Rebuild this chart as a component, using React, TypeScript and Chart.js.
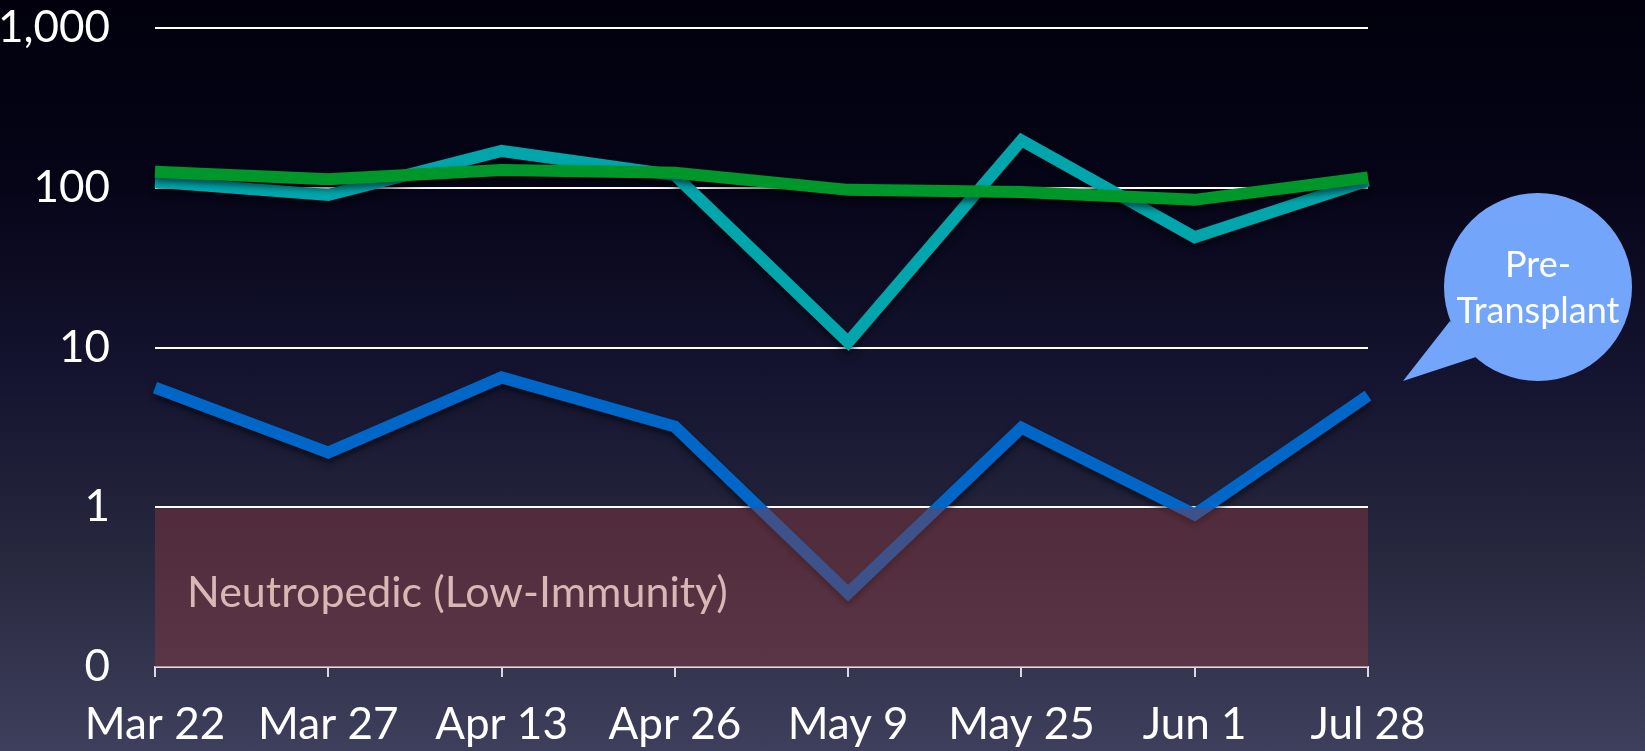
import React, { useEffect, useRef } from "react";
import { Chart, registerables } from "chart.js";

Chart.register(...registerables);

const categories = ["Mar 22", "Mar 27", "Apr 13", "Apr 26", "May 9", "May 25", "Jun 1", "Jul 28"];
const tealValues = [109, 90, 170, 120, 10.8, 198, 49, 111];
const greenValues = [126, 113, 129, 124, 97, 94, 84, 116];
const blueValues = [5.6, 2.2, 6.5, 3.2, 0.29, 3.15, 0.9, 5.0];
const yTickValues = [0.1, 1, 10, 100, 1000];
const yTickLabels = ["0", "1", "10", "100", "1,000"];
const bandRange = [0.1, 1];
const bandLabel = "Neutropedic (Low-Immunity)";
const bubbleLines = ["Pre-", "Transplant"];

const FONT = "Lato, 'Open Sans', sans-serif";

const overlayPlugin = {
  id: "overlay",
  beforeDatasetsDraw(chart: any) {
    const ctx = chart.ctx;
    ctx.save();
    ctx.shadowColor = "rgba(0,0,0,0.55)";
    ctx.shadowBlur = 6;
    ctx.shadowOffsetX = 0;
    ctx.shadowOffsetY = 4;
  },
  afterDatasetsDraw(chart: any) {
    const ctx = chart.ctx;
    ctx.restore();
    const x = chart.scales.x;
    const y = chart.scales.y;
    const top = y.getPixelForValue(bandRange[1]);
    const bottom = y.getPixelForValue(bandRange[0]);
    ctx.save();
    ctx.fillStyle = "rgba(135,55,62,0.45)";
    ctx.fillRect(x.left, top + 1, x.right - x.left, bottom - top - 1);
    ctx.fillStyle = "#d9b7b5";
    ctx.font = `43px ${FONT}`;
    ctx.textAlign = "left";
    ctx.textBaseline = "middle";
    ctx.fillText(bandLabel, x.left + 32, (top + bottom) / 2 + 6);
    ctx.restore();
  },
  afterDraw(chart: any) {
    const ctx = chart.ctx;
    const area = chart.chartArea;
    const cx = area.right + 170;
    const cy = 287;
    const r = 94;
    ctx.save();
    ctx.fillStyle = "#73a6fa";
    ctx.beginPath();
    ctx.arc(cx, cy, r, 0, Math.PI * 2);
    ctx.fill();
    ctx.beginPath();
    ctx.moveTo(cx - 88, cy + 34);
    ctx.lineTo(area.right + 35, 381);
    ctx.lineTo(cx - 62, cy + 70);
    ctx.closePath();
    ctx.fill();
    ctx.fillStyle = "#ffffff";
    ctx.font = `36px ${FONT}`;
    ctx.textAlign = "center";
    ctx.textBaseline = "middle";
    ctx.fillText(bubbleLines[0], cx, cy - 22);
    ctx.fillText(bubbleLines[1], cx, cy + 24);
    ctx.restore();
  },
};

export default function App() {
  const canvasRef = useRef<HTMLCanvasElement | null>(null);

  useEffect(() => {
    document.body.style.margin = "0";
    const canvas = canvasRef.current;
    if (!canvas) return;
    const mk = (data: number[], color: string, order: number) => ({
      data,
      borderColor: color,
      backgroundColor: color,
      borderWidth: 12,
      pointRadius: 0,
      tension: 0,
      borderCapStyle: "butt" as const,
      borderJoinStyle: "miter" as const,
      fill: false,
      order,
    });
    const chart = new Chart(canvas, {
      type: "line",
      data: {
        labels: categories,
        datasets: [
          mk(tealValues, "#00a6ab", 1),
          mk(greenValues, "#00972a", 0),
          mk(blueValues, "#0066c8", 2),
        ],
      },
      plugins: [overlayPlugin],
      options: {
        animation: false,
        responsive: true,
        maintainAspectRatio: false,
        layout: { padding: { left: 0, right: 277, top: 28, bottom: 0 } },
        plugins: {
          legend: { display: false },
          tooltip: { enabled: false },
        },
        scales: {
          x: {
            type: "category",
            offset: false,
            grid: {
              display: true,
              drawOnChartArea: false,
              drawTicks: true,
              tickLength: 10,
              color: "#d8d8e0",
              lineWidth: 2,
            },
            border: { display: true, color: "#dcdce4", width: 2 },
            ticks: {
              color: "#ffffff",
              font: { family: FONT, size: 44 },
              padding: 21,
              maxRotation: 0,
              autoSkip: false,
            },
            afterFit(scale: any) {
              scale.height = 84;
              scale.paddingTop = 0;
              scale.paddingBottom = 0;
            },
          },
          y: {
            type: "logarithmic",
            min: 0.1,
            max: 1000,
            grid: {
              display: true,
              drawTicks: false,
              color: "#ffffff",
              lineWidth: 2,
            },
            border: { display: false },
            ticks: {
              color: "#ffffff",
              font: { family: FONT, size: 44 },
              padding: 45,
              callback: (v: any) => {
                const i = yTickValues.findIndex((t) => Math.abs(t - Number(v)) < 1e-9);
                return i >= 0 ? yTickLabels[i] : "";
              },
            },
            afterBuildTicks(scale: any) {
              scale.ticks = yTickValues.map((v) => ({ value: v }));
            },
            afterFit(scale: any) {
              scale.width = 155;
              scale.paddingTop = 0;
              scale.paddingBottom = 0;
            },
          },
        },
      },
    });
    return () => chart.destroy();
  }, []);

  return (
    <div
      style={{
        position: "fixed",
        left: 0,
        top: 0,
        width: 1645,
        height: 751,
        background:
          "linear-gradient(to bottom, #01000c 0%, #060518 25%, #141430 50%, #28283f 75%, #3e3f5c 100%)",
      }}
    >
      <canvas ref={canvasRef} />
    </div>
  );
}
